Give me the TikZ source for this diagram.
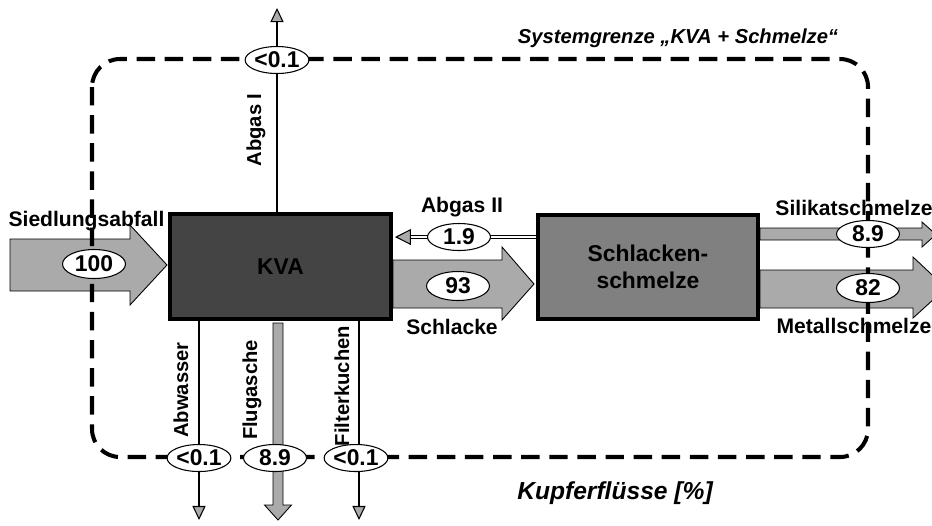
\documentclass[tikz,border=0pt]{standalone}
\usepackage{fontspec}
\setmainfont{Liberation Sans}
\usetikzlibrary{arrows.meta, positioning, calc, shapes.geometric}
\definecolor{kvagray}{HTML}{444444}
\definecolor{smgray}{HTML}{808080}
\definecolor{flowgray}{HTML}{AAAAAA}
\tikzset{
  unit/.style={
    draw,
    rectangle,
    line width=2.3pt,
    inner sep=0pt,
    align=center,
    text=black,
    font=\bfseries\fontsize{13}{15}\selectfont
  },
  val/.style={
    draw,
    ellipse,
    fill=white,
    line width=0.6pt,
    inner sep=0pt,
    minimum width=1.26cm,
    minimum height=0.54cm,
    font=\bfseries\fontsize{13}{14}\selectfont
  },
  fat/.style={
    draw, fill=flowgray, line width=0.5pt, line join=miter}
}

\begin{document}
\begin{tikzpicture}[
  x=0.02cm, y=-0.02cm,
  lbl/.style={font=\bfseries\fontsize{12}{14}\selectfont, inner sep=0pt},
  vlbl/.style={font=\bfseries\fontsize{11.5}{13}\selectfont, inner sep=0pt, rotate=90},
  thin flow/.style={line width=1.5pt,
    -{Triangle[length=8pt,width=7.5pt,fill=flowgray,line width=0.6pt]}},
  sysbound/.style={line width=2.3pt, dash pattern=on 10.5pt off 5.5pt,
    rounded corners=0.56cm}
]
\useasboundingbox (0,0) rectangle (932,525);

%% ---- units ----
\node[unit, fill=kvagray, minimum width=4.42cm, minimum height=2.1cm]
  (kva) at (280.5,266.5) {KVA};
\node[unit, fill=smgray, minimum width=4.4cm, minimum height=2.08cm]
  (schmelze) at (648,267) {Schlacken-\\schmelze};

%% ---- fat flows ----
\draw[fat] (10,239) -- (130,239) -- (130,225) -- (167,265)
  -- (130,305) -- (130,291) -- (10,291) -- cycle;
\draw[fat] (393,260) -- (502,260) -- (502,247) -- (534,284)
  -- (502,320) -- (502,308) -- (393,308) -- cycle;
\draw[fat] (760,228) -- (922,228) -- (922,222) -- (936,234.5)
  -- (922,247) -- (922,240) -- (760,240) -- cycle;
\draw[fat] (760,270) -- (913,270) -- (913,257) -- (946,288)
  -- (913,318) -- (913,308) -- (760,308) -- cycle;
\draw[fat] (273,323) -- (283,323) -- (283,505) -- (291.5,505)
  -- (278,520) -- (264.5,505) -- (273,505) -- cycle;

%% ---- thin flows ----
\coordinate (abgasI-end)    at (277,8);
\coordinate (abgasII-end)   at (395,237);
\coordinate (abwasser-end)  at (199,520);
\coordinate (filter-end)    at (359,520);

\draw[thin flow] (kva.north -| abgasI-end) -- (abgasI-end);
\draw[thin flow] (kva.south -| abwasser-end) -- (abwasser-end);
\draw[thin flow] (kva.south -| filter-end) -- (filter-end);
\draw[line width=0.7pt, double, double distance=1.3pt,
  -{Triangle[length=9pt,width=9pt,fill=flowgray,line width=0.6pt]}]
  (schmelze.west |- abgasII-end) -- (abgasII-end);

%% ---- labels ----
\node[lbl] (l-sied)     at (86.5,221) {Siedlungsabfall};
\node[lbl] (l-abgasII)  at (462,207)  {Abgas II};
\node[lbl] (l-schlacke) at (452,327)  {Schlacke};
\node[lbl] (l-silikat)  at (854,208)  {Silikatschmelze};
\node[lbl] (l-metall)   at (854,326)  {Metallschmelze};
\node[vlbl] (l-abgasI)   at (256,130) {Abgas I};
\node[vlbl] (l-abwasser) at (181,390) {Abwasser};
\node[vlbl] (l-flug)     at (252,390) {Flugasche};
\node[vlbl] (l-filter)   at (342,386) {Filterkuchen};

\node[font=\bfseries\itshape\fontsize{11.5}{13}\selectfont] (t-system)
  at (678,38) {Systemgrenze „KVA + Schmelze“};
\node[font=\bfseries\itshape\fontsize{14}{16}\selectfont] (t-kupfer)
  at (615,493) {Kupferflüsse [\%]};

%% ---- system boundary ----
\draw[sysbound] (92,59) rectangle (868,457);

%% ---- values ----
\node[val] (e-abgasI)   at (277,60)  {<0.1};
\node[val] (e-abgasII)  at (459,237) {1.9};
\node[val, minimum height=0.58cm] (e-sied) at (94,264) {100};
\node[val, minimum height=0.58cm] (e-schlacke) at (458,286) {93};
\node[val] (e-silikat)  at (868,234) {8.9};
\node[val, minimum height=0.58cm] (e-metall) at (868,288) {82};
\node[val] (e-abwasser) at (199,458) {<0.1};
\node[val] (e-flug)     at (275,458) {8.9};
\node[val] (e-filter)   at (356,458) {<0.1};
\end{tikzpicture}
\end{document}
